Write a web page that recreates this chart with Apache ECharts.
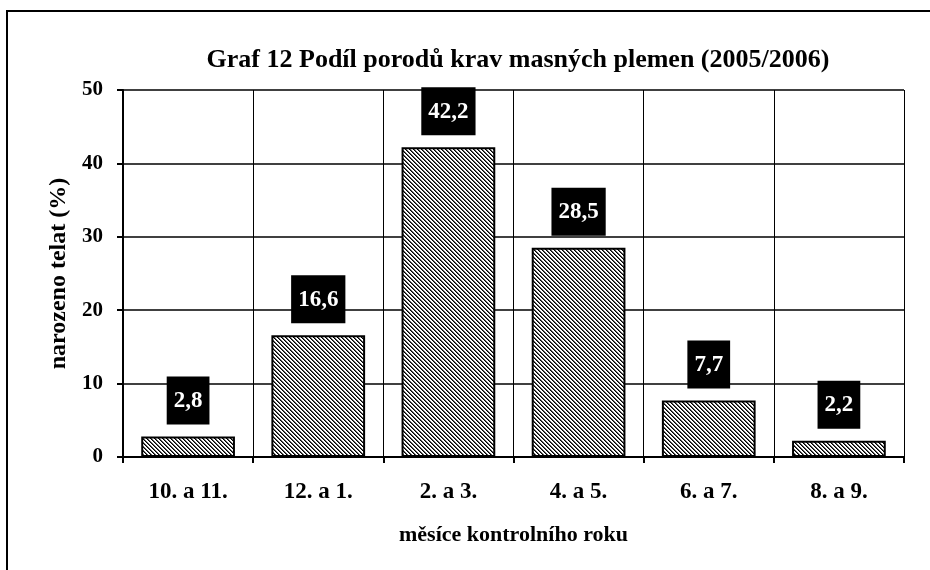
<!DOCTYPE html>
<html>
<head>
<meta charset="utf-8">
<script src="https://cdn.jsdelivr.net/npm/echarts@6/dist/echarts.min.js"></script>
<style>html,body{margin:0;padding:0;background:#fff}#c{width:930px;height:570px}</style>
</head>
<body>
<div id="c"></div>
<script>
var titleText = 'Graf 12 Podíl porodů krav masných plemen (2005/2006)';
var categories = ['10. a 11.', '12. a 1.', '2. a 3.', '4. a 5.', '6. a 7.', '8. a 9.'];
var values = [2.8, 16.6, 42.2, 28.5, 7.7, 2.2];
var yTicks = [0, 10, 20, 30, 40, 50];
var xName = 'měsíce kontrolního roku';
var yName = 'narozeno telat (%)';

var serif = '"Liberation Serif", "Times New Roman", serif';

function makeHatch() {
  var s = 8;
  var cv = document.createElement('canvas');
  cv.width = s; cv.height = s;
  var ctx = cv.getContext('2d');
  var img = ctx.createImageData(s, s);
  for (var y = 0; y < s; y++) {
    for (var x = 0; x < s; x++) {
      var d = ((x - y) % 4 + 4) % 4;
      var v = (d === 0) ? 0 : (d === 1 ? 90 : 255);
      var i = (y * s + x) * 4;
      img.data[i] = v; img.data[i + 1] = v; img.data[i + 2] = v; img.data[i + 3] = 255;
    }
  }
  ctx.putImageData(img, 0, 0);
  return cv;
}

var chart = echarts.init(document.getElementById('c'), null, {renderer: 'canvas'});
chart.setOption({
  animation: false,
  backgroundColor: '#fff',
  graphic: [{
    type: 'rect',
    shape: {x: 7, y: 11, width: 1000, height: 1000},
    style: {fill: 'none', stroke: '#000', lineWidth: 2},
    z: 100
  }],
  title: {
    text: titleText,
    left: 513, textAlign: 'center', top: 42,
    textStyle: {fontFamily: serif, fontWeight: 'bold', fontSize: 26, color: '#000'}
  },
  grid: {left: 123, right: 26, top: 90, bottom: 113},
  xAxis: {
    type: 'category',
    data: categories,
    name: xName,
    nameLocation: 'middle',
    nameGap: 67,
    nameTextStyle: {fontFamily: serif, fontWeight: 'bold', fontSize: 22, color: '#000'},
    axisLine: {lineStyle: {color: '#000', width: 2}},
    axisTick: {show: true, length: 6, lineStyle: {color: '#000', width: 2}},
    axisLabel: {margin: 24, fontFamily: serif, fontWeight: 'bold', fontSize: 23, color: '#000'},
    splitLine: {show: true, lineStyle: {color: '#000', width: 1}}
  },
  yAxis: {
    type: 'value',
    min: yTicks[0], max: yTicks[yTicks.length - 1], interval: 10,
    name: yName,
    nameLocation: 'middle',
    nameGap: 48,
    nameTextStyle: {fontFamily: serif, fontWeight: 'bold', fontSize: 24, color: '#000'},
    axisLine: {show: true, lineStyle: {color: '#000', width: 2}},
    axisTick: {show: true, length: 6, lineStyle: {color: '#000', width: 2}},
    axisLabel: {margin: 20, fontFamily: serif, fontWeight: 'bold', fontSize: 21, color: '#000'},
    splitLine: {show: true, lineStyle: {color: '#000', width: 1.5}}
  },
  series: [{
    type: 'bar',
    data: values,
    barWidth: '72%',
    itemStyle: {
      color: {image: makeHatch(), repeat: 'repeat'},
      borderColor: '#000',
      borderWidth: 2
    },
    label: {
      show: true,
      position: 'top',
      distance: 12,
      formatter: function (p) { return String(p.value).replace('.', ','); },
      backgroundColor: '#000',
      color: '#fff',
      padding: [13, 7, 12, 7],
      fontFamily: serif,
      fontWeight: 'bold',
      fontSize: 23
    }
  }]
});
</script>
</body>
</html>
